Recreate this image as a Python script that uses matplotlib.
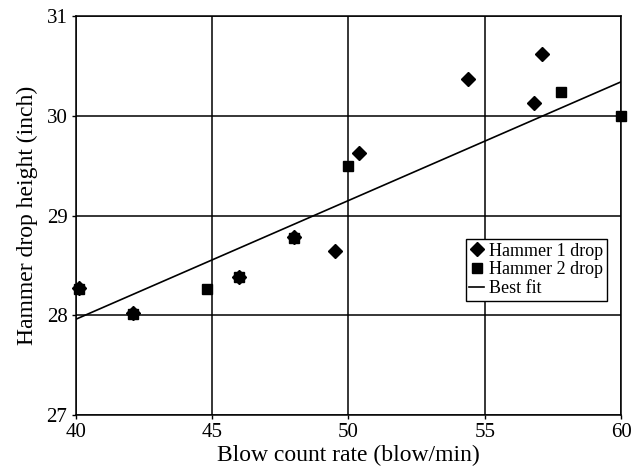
import matplotlib
matplotlib.use("Agg")
import matplotlib.pyplot as plt

# Hammer 1 drop (diamonds)
h1_rate = [40.1, 42.1, 46.0, 48.0, 49.5, 50.4, 54.4, 56.8, 57.1]
h1_height = [28.27, 28.02, 28.38, 28.78, 28.64, 29.63, 30.37, 30.13, 30.62]

# Hammer 2 drop (squares)
h2_rate = [40.1, 42.1, 44.8, 46.0, 48.0, 50.0, 57.8, 60.0]
h2_height = [28.26, 28.01, 28.26, 28.38, 28.77, 29.50, 30.24, 30.00]

# best fit line, read at the ends
fit_rate = [40, 60]
fit_height = [27.96, 30.34]

x_ticks = [40, 45, 50, 55, 60]
y_ticks = [27, 28, 29, 30, 31]

plt.rcParams["font.family"] = ["Liberation Serif", "DejaVu Serif"]

fig = plt.figure(figsize=(6.37, 4.69), dpi=100)
ax = fig.add_axes([0.119, 0.115, 0.856, 0.851])

ax.plot(h1_rate, h1_height, linestyle="none", marker="D", markersize=7.5,
        color="black", label="Hammer 1 drop", zorder=3, clip_on=False)
ax.plot(h2_rate, h2_height, linestyle="none", marker="s", markersize=6.5,
        color="black", label="Hammer 2 drop", zorder=3, clip_on=False)
ax.plot(fit_rate, fit_height, color="black", linewidth=1.2, label="Best fit", zorder=2)

ax.set_xlim(40, 60)
ax.set_ylim(27, 31)
ax.set_xticks(x_ticks)
ax.set_yticks(y_ticks)
ax.grid(True, color="black", linewidth=1.1)
ax.tick_params(length=3, width=1.0, direction="out", labelsize=15, pad=3)
for s in ax.spines.values():
    s.set_linewidth(1.1)

ax.set_xlabel("Blow count rate (blow/min)", fontsize=17, labelpad=2)
ax.set_ylabel("Hammer drop height (inch)", fontsize=17, labelpad=6)

leg = ax.legend(loc="upper right", bbox_to_anchor=(0.974, 0.441), fontsize=13,
                frameon=True, fancybox=False, framealpha=1, edgecolor="black",
                handlelength=0.8, handletextpad=0.3, borderpad=0.2,
                labelspacing=0.1, borderaxespad=0)
leg.get_frame().set_linewidth(1.0)

fig.savefig("out.png", dpi=100)
